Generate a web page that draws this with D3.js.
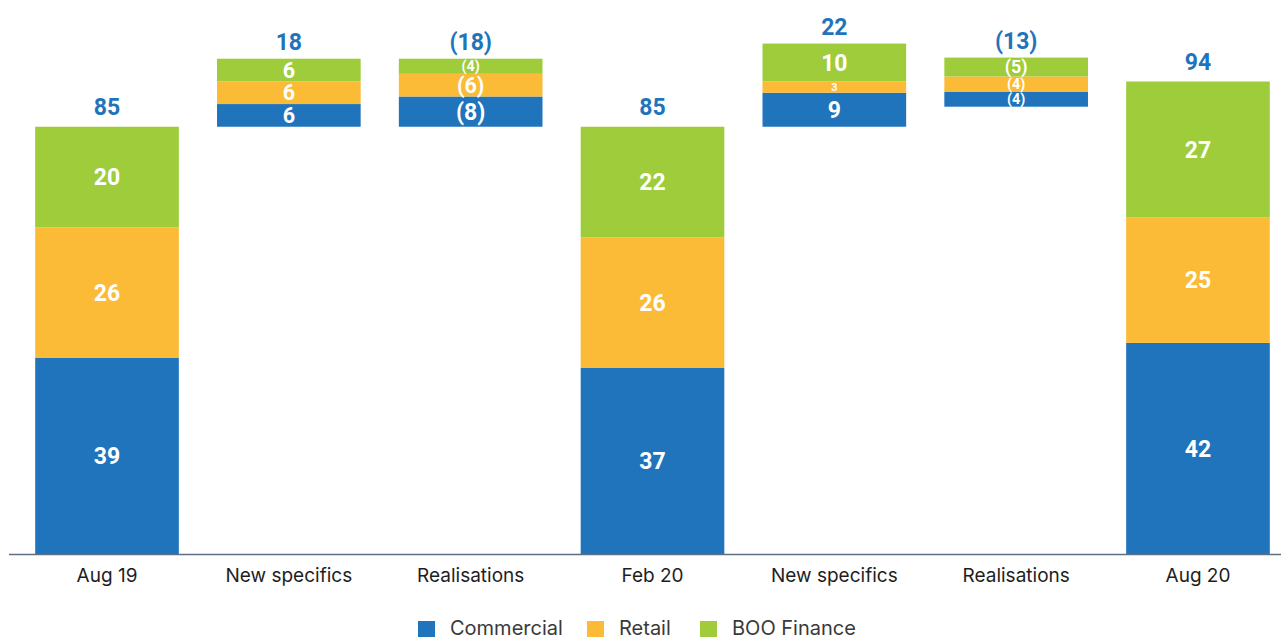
<!DOCTYPE html>
<html>
<head>
<meta charset="utf-8">
<script src="https://cdn.jsdelivr.net/npm/d3@7"></script>
<style>
  body { margin: 0; background: #fff; }
  svg { display: block; }
</style>
</head>
<body>
<div id="chart"></div>
<script>
// data
var categories = ["Aug 19", "New specifics", "Realisations", "Feb 20", "New specifics", "Realisations", "Aug 20"];
var barKind = ["total", "move", "move", "total", "move", "move", "total"];
var commercial = [39, 6, -8, 37, 9, -4, 42];
var retail = [26, 6, -6, 26, 3, -4, 25];
var booFinance = [20, 6, -4, 22, 10, -5, 27];
// movement bars sit on the previous total, the last one floats a little higher
var moveOffset = [0, 0, 0, 0, 0, 5.3, 0];
var seriesNames = ["Commercial", "Retail", "BOO Finance"];
var seriesColors = ["#1f74bb", "#fcbb37", "#9ecc3b"];

var width = 1281, height = 637;
var numFont = "Roboto, 'DejaVu Sans Condensed', sans-serif";
var textFont = "Inter, 'Open Sans', sans-serif";

var svg = d3.select("#chart").append("svg")
    .attr("width", width)
    .attr("height", height);

var x = d3.scaleBand()
    .domain(d3.range(categories.length))
    .range([16.1, 1288.9])
    .paddingInner(0.21)
    .paddingOuter(0.105);

// stock bars
var y = d3.scaleLinear().domain([0, 94]).range([554, 81.5]);
// movement bars are drawn on a smaller scale (pixel height per unit)
var yMove = d3.scaleLinear().domain([0, 25]).range([0, 94.5]);

var series = [commercial, retail, booFinance];

function fmt(v) {
    return v < 0 ? "(" + Math.abs(v) + ")" : "" + v;
}

var segments = [];
var totals = [];
var lastTotal = 0;
categories.forEach(function (c, i) {
    var cum = 0;
    var sum = commercial[i] + retail[i] + booFinance[i];
    if (barKind[i] == "total") {
        series.forEach(function (s, k) {
            var v = s[i];
            segments.push({i: i, k: k, v: v, y0: y(cum), y1: y(cum + v)});
            cum += v;
        });
        totals.push({i: i, v: sum, top: y(sum), kind: "total"});
        lastTotal = sum;
    } else {
        var base = y(lastTotal) - yMove(moveOffset[i]);
        series.forEach(function (s, k) {
            var v = s[i];
            var a = Math.abs(v);
            segments.push({i: i, k: k, v: v, y0: base - yMove(cum), y1: base - yMove(cum + a)});
            cum += a;
        });
        totals.push({i: i, v: sum, top: base - yMove(cum), kind: "move"});
    }
});

// bars
svg.append("g")
    .selectAll("rect")
    .data(segments)
    .enter()
    .append("rect")
      .attr("x", function (d) { return x(d.i); })
      .attr("width", x.bandwidth())
      .attr("y", function (d) { return d.y1; })
      .attr("height", function (d) { return d.y0 - d.y1; })
      .style("fill", function (d) { return seriesColors[d.k]; });

// labels inside segments
svg.append("g")
    .selectAll("text")
    .data(segments)
    .enter()
    .append("text")
      .attr("x", function (d) { return x(d.i) + x.bandwidth() / 2; })
      .attr("y", function (d) { return (d.y0 + d.y1) / 2; })
      .attr("dy", "0.36em")
      .attr("text-anchor", "middle")
      .style("font-family", numFont)
      .style("font-weight", "bold")
      .style("font-size", function (d) { return Math.min(23, (d.y0 - d.y1) * 0.95) + "px"; })
      .style("fill", "#fff")
      .text(function (d) { return fmt(d.v); });

// totals above bars
svg.append("g")
    .selectAll("text")
    .data(totals)
    .enter()
    .append("text")
      .attr("x", function (d) { return x(d.i) + x.bandwidth() / 2; })
      .attr("y", function (d) { return d.top - (d.kind == "total" ? 12 : 9); })
      .attr("text-anchor", "middle")
      .style("font-family", numFont)
      .style("font-weight", "bold")
      .style("font-size", "23px")
      .style("fill", "#1f74bb")
      .text(function (d) { return fmt(d.v); });

// x axis
var xAxis = svg.append("g")
    .attr("transform", "translate(0," + y(0) + ")")
    .call(d3.axisBottom(x).tickSize(0).tickPadding(14).tickFormat(function (i) { return categories[i]; }));
xAxis.select(".domain").remove();
xAxis.append("line")
    .attr("x1", 9).attr("x2", width)
    .attr("y1", 0.5).attr("y2", 0.5)
    .style("stroke", "#5e6f84")
    .style("stroke-width", 1.5);
xAxis.selectAll("text")
    .attr("dy", "0.72em")
    .style("font-family", textFont)
    .style("font-size", "19px")
    .style("fill", "#1e1e1e");

// legend
var legendX = [418, 587, 700];
var legend = svg.append("g")
    .selectAll("g")
    .data(seriesNames)
    .enter()
    .append("g")
      .attr("transform", function (d, i) { return "translate(" + legendX[i] + ",621)"; });
legend.append("rect")
    .attr("width", 17)
    .attr("height", 17)
    .style("fill", function (d, i) { return seriesColors[i]; });
legend.append("text")
    .attr("x", 32)
    .attr("y", 14)
    .style("font-family", textFont)
    .style("font-size", "20px")
    .style("fill", "#3a3a3a")
    .text(function (d) { return d; });
</script>
</body>
</html>
